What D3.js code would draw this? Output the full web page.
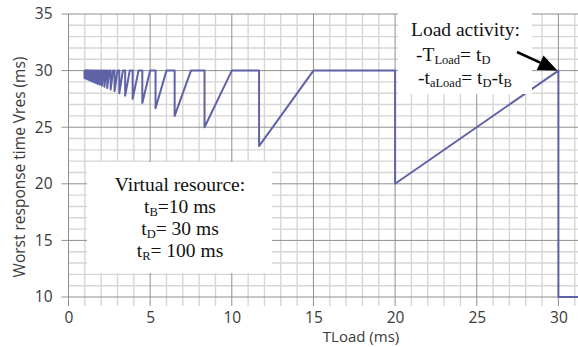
<!DOCTYPE html>
<html>
<head>
<meta charset="utf-8">
<script src="https://cdn.jsdelivr.net/npm/d3@7"></script>
<style>
  body { margin: 0; background: #fff; }
  svg { display: block; }
</style>
</head>
<body>
<div id="chart"></div>
<script>
// teeth of the curve (from left to right)
const dropT = [0.98, 1.01, 1.05, 1.09, 1.13, 1.17, 1.22, 1.27, 1.32, 1.39, 1.45, 1.53, 1.61, 1.70, 1.80,
  1.92, 2.05, 2.20, 2.37, 2.58, 2.82, 3.11, 3.47, 3.93, 4.52, 5.33, 6.50, 8.33, 11.67, 20.0];
const dropV = [29.35, 29.33, 29.31, 29.29, 29.26, 29.23, 29.2, 29.17, 29.13, 29.09, 29.05, 29.0, 28.95, 28.89, 28.82,
  28.75, 28.67, 28.57, 28.46, 28.33, 28.18, 28.0, 27.78, 27.5, 27.14, 26.67, 26.0, 25.0, 23.33, 20.0];
const peakT = [1.0, 1.03, 1.07, 1.11, 1.15, 1.2, 1.25, 1.3, 1.36, 1.43, 1.5, 1.58, 1.67, 1.76, 1.88,
  2.0, 2.14, 2.31, 2.5, 2.73, 3.0, 3.33, 3.75, 4.29, 5.0, 6.0, 7.5, 10.0, 15.0, 30.0];
const peakV = 30;
const tailT = [30.0, 31.2];
const tailV = [10, 10];

const xTicks = [0, 5, 10, 15, 20, 25, 30];
const yTicks = [10, 15, 20, 25, 30, 35];

const width = 578, height = 347;
const x = d3.scaleLinear().domain([0, 31.2]).range([68.5, 578]);
const y = d3.scaleLinear().domain([10, 35]).range([297, 14]);

const svg = d3.select('#chart').append('svg')
  .attr('width', width)
  .attr('height', height);

// grid
const xMinor = d3.range(1, 32).filter(d => d % 5 != 0);
const yMinor = d3.range(11, 36).filter(d => d % 5 != 0);
svg.append('g').selectAll('line').data(xMinor).enter().append('line')
  .attr('x1', d => x(d)).attr('x2', d => x(d))
  .attr('y1', y(35)).attr('y2', y(10) + 9)
  .attr('stroke', '#d6d6d6').attr('stroke-width', 1.4);
svg.append('g').selectAll('line').data(yMinor).enter().append('line')
  .attr('x1', x(0)).attr('x2', width)
  .attr('y1', d => y(d)).attr('y2', d => y(d))
  .attr('stroke', '#d6d6d6').attr('stroke-width', 1.4);
svg.append('g').selectAll('line').data(xTicks).enter().append('line')
  .attr('x1', d => x(d)).attr('x2', d => x(d))
  .attr('y1', y(35)).attr('y2', y(10) + 9)
  .attr('stroke', '#8f8f8f').attr('stroke-width', 1);
svg.append('g').selectAll('line').data(yTicks).enter().append('line')
  .attr('x1', x(0) - 7).attr('x2', width)
  .attr('y1', d => y(d)).attr('y2', d => y(d))
  .attr('stroke', '#8f8f8f').attr('stroke-width', 1);

// axes (labels only, grid drawn above)
const bottom = svg.append('g')
  .attr('transform', `translate(0,${y(10)})`)
  .call(d3.axisBottom(x).tickValues(xTicks).tickSize(0).tickPadding(15));
const left = svg.append('g')
  .attr('transform', `translate(${x(0)},0)`)
  .call(d3.axisLeft(y).tickValues(yTicks).tickSize(0).tickPadding(16));
[bottom, left].forEach(g => {
  g.select('.domain').remove();
  g.selectAll('text')
    .style('font-family', '"Open Sans", sans-serif')
    .style('font-size', '15.5px')
    .attr('fill', '#3a3a3a');
});

svg.append('text')
  .attr('x', 361).attr('y', 342)
  .attr('text-anchor', 'middle')
  .style('font-family', '"Open Sans", sans-serif').style('font-size', '15px')
  .attr('fill', '#3a3a3a')
  .text('TLoad (ms)');
svg.append('text')
  .attr('transform', 'translate(25,167) rotate(-90)')
  .attr('text-anchor', 'middle')
  .style('font-family', '"Open Sans", sans-serif').style('font-size', '15.5px')
  .attr('fill', '#3a3a3a')
  .text('Worst response time Vres (ms)');

// build the series from the teeth
const pts = [];
dropT.forEach((t, i) => {
  pts.push([t, peakV]);
  pts.push([t, dropV[i]]);
  pts.push([peakT[i], peakV]);
});
tailT.forEach((t, i) => pts.push([t, tailV[i]]));

const line = d3.line().x(d => x(d[0])).y(d => y(d[1]));
svg.append('path')
  .datum(pts)
  .attr('d', line)
  .attr('fill', 'none')
  .attr('stroke', '#6062a6')
  .attr('stroke-width', 2)
  .attr('stroke-linejoin', 'round');

// text boxes
const serif = '"Liberation Serif", "Times New Roman", serif';
svg.append('rect').attr('x', 87).attr('y', 162).attr('width', 185).attr('height', 111).attr('fill', '#fff');
const vr = svg.append('text')
  .attr('text-anchor', 'middle')
  .style('font-family', serif).style('font-size', '19.5px')
  .attr('fill', '#111');
vr.append('tspan').attr('x', 180).attr('y', 191).text('Virtual resource:');
const vrRows = [['B', '=10 ms', 213], ['D', '= 30 ms', 235], ['R', '= 100 ms', 257]];
vrRows.forEach(r => {
  const t = svg.append('text')
    .attr('x', 180).attr('y', r[2])
    .attr('text-anchor', 'middle')
    .style('font-family', serif).style('font-size', '19.5px')
    .attr('fill', '#111');
  t.append('tspan').text('t');
  t.append('tspan').attr('dy', 3).style('font-size', '12.5px').text(r[0]);
  t.append('tspan').attr('dy', -3).text(r[1]);
});

svg.append('rect').attr('x', 398).attr('y', 0).attr('width', 134).attr('height', 94).attr('fill', '#fff');
svg.append('text')
  .attr('x', 411).attr('y', 36)
  .style('font-family', serif).style('font-size', '19.5px')
  .attr('fill', '#111')
  .text('Load activity:');
const la1 = svg.append('text').attr('x', 416).attr('y', 61)
  .style('font-family', serif).style('font-size', '19.5px').attr('fill', '#111');
la1.append('tspan').text('-T');
la1.append('tspan').attr('dy', 3).style('font-size', '12.5px').text('Load');
la1.append('tspan').attr('dy', -3).text('= t');
la1.append('tspan').attr('dy', 3).style('font-size', '12.5px').text('D');
const la2 = svg.append('text').attr('x', 418).attr('y', 84)
  .style('font-family', serif).style('font-size', '19.5px').attr('fill', '#111');
la2.append('tspan').text('-t');
la2.append('tspan').attr('dy', 3).style('font-size', '12.5px').text('aLoad');
la2.append('tspan').attr('dy', -3).text('= t');
la2.append('tspan').attr('dy', 3).style('font-size', '12.5px').text('D');
la2.append('tspan').attr('dy', -3).text('-t');
la2.append('tspan').attr('dy', 3).style('font-size', '12.5px').text('B');

// arrow pointing at the last peak
const tipX = x(30) - 1, tipY = y(30);
const fromX = 517, fromY = 52;
const ang = Math.atan2(tipY - fromY, tipX - fromX);
const hl = 19, hw = 8;
const bx = tipX - hl * Math.cos(ang), by = tipY - hl * Math.sin(ang);
svg.append('line')
  .attr('x1', fromX).attr('y1', fromY)
  .attr('x2', bx).attr('y2', by)
  .attr('stroke', '#000').attr('stroke-width', 2.5);
svg.append('path')
  .attr('d', `M${tipX},${tipY}L${bx - hw * Math.sin(ang)},${by + hw * Math.cos(ang)}L${bx + hw * Math.sin(ang)},${by - hw * Math.cos(ang)}Z`)
  .attr('fill', '#000');
</script>
</body>
</html>
